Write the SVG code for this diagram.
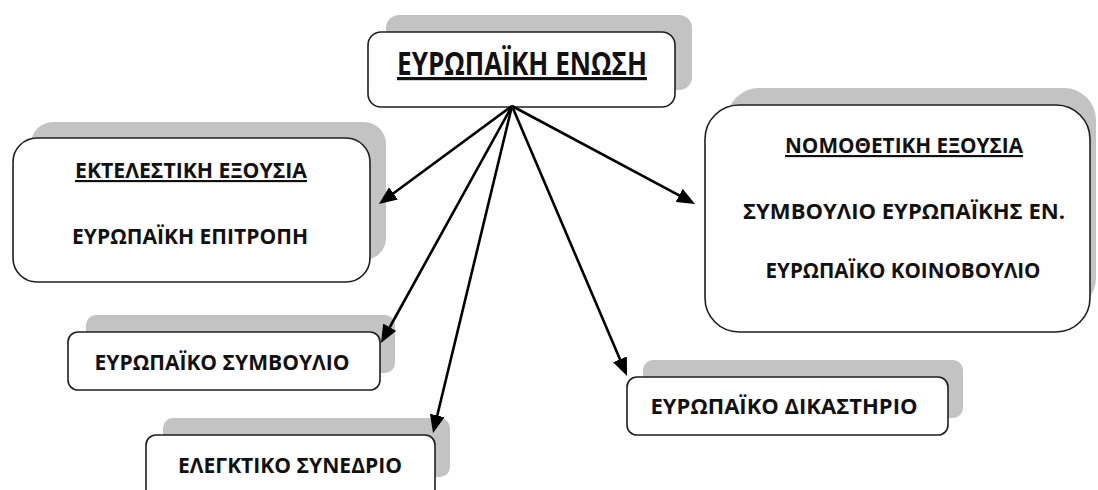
<svg xmlns="http://www.w3.org/2000/svg" width="1098" height="490" viewBox="0 0 1098 490">
<style>
.shadow{fill:#c3c3c3;stroke:none}
.box{fill:#ffffff;stroke:#1e1e1e;stroke-width:1.6}
.t{font-family:"Open Sans","Noto Sans","Liberation Sans",sans-serif;font-weight:bold;fill:#111;text-anchor:middle;font-size:21.5px}
.title{font-size:32px}
.u{text-decoration:underline}
.conn{stroke:#000;stroke-width:2.6;fill:none;marker-end:url(#arr)}
</style>
<defs>
<marker id="arr" markerUnits="userSpaceOnUse" markerWidth="20" markerHeight="16" refX="10" refY="7.5" orient="auto">
<path d="M0,0 L18,7.5 L0,15 z" fill="#000"/>
</marker>
</defs>
<rect width="1098" height="490" fill="#ffffff"/>
<g id="node-eu">
<rect class="shadow" x="386" y="15" width="306" height="75" rx="13"/>
<rect class="box" x="368" y="32" width="307" height="75" rx="13"/>
<text class="t title u" x="522" y="75" textLength="250" lengthAdjust="spacingAndGlyphs">ΕΥΡΩΠΑΪΚΗ ΕΝΩΣΗ</text>
</g>
<g id="node-executive">
<rect class="shadow" x="31" y="122" width="355" height="138" rx="22"/>
<rect class="box" x="13" y="138" width="357" height="144" rx="24"/>
<text class="t u" x="191" y="178" textLength="232" lengthAdjust="spacingAndGlyphs">ΕΚΤΕΛΕΣΤΙΚΗ ΕΞΟΥΣΙΑ</text>
<text class="t" x="190" y="244" textLength="236" lengthAdjust="spacingAndGlyphs">ΕΥΡΩΠΑΪΚΗ ΕΠΙΤΡΟΠΗ</text>
</g>
<g id="node-legislative">
<rect class="shadow" x="727" y="88" width="369" height="222" rx="32"/>
<rect class="box" x="705" y="105" width="385" height="227" rx="34"/>
<text class="t u" x="904" y="153" textLength="238" lengthAdjust="spacingAndGlyphs">ΝΟΜΟΘΕΤΙΚΗ ΕΞΟΥΣΙΑ</text>
<text class="t" x="904" y="219" textLength="322" lengthAdjust="spacingAndGlyphs">ΣΥΜΒΟΥΛΙΟ ΕΥΡΩΠΑΪΚΗΣ ΕΝ.</text>
<text class="t" x="903" y="278" textLength="275" lengthAdjust="spacingAndGlyphs">ΕΥΡΩΠΑΪΚΟ ΚΟΙΝΟΒΟΥΛΙΟ</text>
</g>
<g id="node-council">
<rect class="shadow" x="86" y="315" width="309" height="58" rx="10"/>
<rect class="box" x="68" y="332" width="312" height="58" rx="10"/>
<text class="t" x="222" y="370" textLength="255" lengthAdjust="spacingAndGlyphs">ΕΥΡΩΠΑΪΚΟ ΣΥΜΒΟΥΛΙΟ</text>
</g>
<g id="node-audit">
<rect class="shadow" x="163" y="418" width="287" height="59" rx="10"/>
<rect class="box" x="146" y="435" width="289" height="70" rx="10"/>
<text class="t" x="290" y="473" textLength="224" lengthAdjust="spacingAndGlyphs">ΕΛΕΓΚΤΙΚΟ ΣΥΝΕΔΡΙΟ</text>
</g>
<g id="node-court">
<rect class="shadow" x="643" y="360" width="320" height="58" rx="10"/>
<rect class="box" x="627" y="377" width="321" height="58" rx="10"/>
<text class="t" x="784" y="414" textLength="267" lengthAdjust="spacingAndGlyphs">ΕΥΡΩΠΑΪΚΟ ΔΙΚΑΣΤΗΡΙΟ</text>
</g>
<g id="connectors">
<line class="conn" x1="512" y1="106" x2="385.4" y2="199.3"/>
<line class="conn" x1="512" y1="106" x2="688.0" y2="200.2"/>
<line class="conn" x1="512" y1="106" x2="384.9" y2="336.0"/>
<line class="conn" x1="512" y1="106" x2="434.9" y2="425.2"/>
<line class="conn" x1="512" y1="106" x2="623.9" y2="368.6"/>
</g>
</svg>
